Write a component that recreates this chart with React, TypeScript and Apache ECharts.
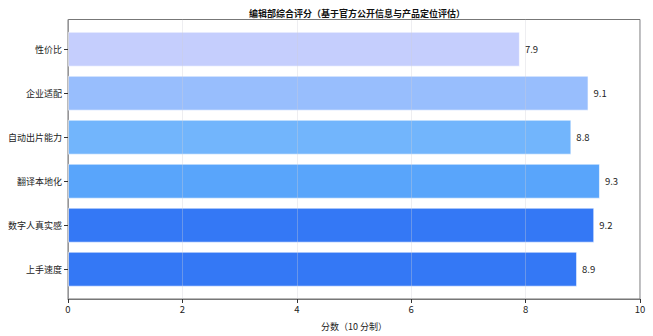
import React, { useEffect, useRef } from "react";
import * as echarts from "echarts";

const categories = ["性价比", "企业适配", "自动出片能力", "翻译本地化", "数字人真实感", "上手速度"];
const scores = [7.9, 9.1, 8.8, 9.3, 9.2, 8.9];
const barColors = ["#c5cefd", "#98befd", "#72b5fc", "#59a5fb", "#3478f5", "#3478f5"];
const xTicks = { min: 0, max: 10, interval: 2 };
const titleText = "编辑部综合评分（基于官方公开信息与产品定位评估）";
const xName = "分数（10 分制）";

const FONT = "'Noto Sans CJK SC', 'Noto Sans', sans-serif";

export default function App() {
  const ref = useRef<HTMLDivElement>(null);
  useEffect(() => {
    if (!ref.current) return;
    const chart = echarts.init(ref.current, null, { renderer: "svg" });
    chart.setOption({
      animation: false,
      backgroundColor: "#ffffff",
      textStyle: { fontFamily: FONT },
      title: {
        text: titleText,
        left: 352,
        top: 4,
        textAlign: "center",
        textStyle: { fontSize: 9, fontWeight: "bold", color: "#111", fontFamily: FONT },
      },
      grid: [
        { left: 68, right: 13, top: 19.5, bottom: 36, show: true, borderColor: "#777", borderWidth: 1, backgroundColor: "transparent" },
        { left: 68, right: 13, top: 27.2, bottom: 44.8 },
      ],
      xAxis: [
        {
          gridIndex: 0,
          type: "value",
          min: xTicks.min,
          max: xTicks.max,
          interval: xTicks.interval,
          z: 5,
          name: xName,
          nameLocation: "middle",
          nameGap: 23,
          nameTextStyle: { fontSize: 9, color: "#222", fontFamily: FONT },
          axisLine: { show: true, lineStyle: { color: "#777", width: 1 } },
          axisTick: { show: true, length: 4, inside: false, lineStyle: { color: "#333" } },
          axisLabel: { fontSize: 9.5, color: "#222", margin: 5, fontFamily: FONT },
          splitLine: { show: true, lineStyle: { color: "rgba(205,205,215,0.35)", width: 1 } },
        },
        { gridIndex: 1, type: "value", min: xTicks.min, max: xTicks.max, show: false },
      ],
      yAxis: [
        {
          gridIndex: 0,
          type: "value",
          min: 0,
          max: 1,
          axisLine: { show: true, lineStyle: { color: "#777" } },
          axisTick: { show: false },
          axisLabel: { show: false },
          splitLine: { show: false },
        },
        {
          gridIndex: 1,
          type: "category",
          inverse: true,
          data: categories,
          axisLine: { show: false },
          axisTick: { show: true, alignWithLabel: true, length: 4, lineStyle: { color: "#333" } },
          axisLabel: { fontSize: 9, color: "#222", margin: 6, fontFamily: FONT },
        },
      ],
      series: [
        {
          type: "bar",
          xAxisIndex: 1,
          yAxisIndex: 1,
          barWidth: 35,
          z: 2,
          data: scores.map((v, i) => ({
            value: v,
            itemStyle: { color: barColors[i], borderColor: "rgba(255,255,255,0.6)", borderWidth: 1 },
          })),
          label: {
            show: true,
            position: "right",
            distance: 5,
            fontSize: 9.5,
            color: "#222",
            fontFamily: FONT,
            formatter: (p: any) => Number(p.value).toFixed(1),
          },
        },
      ],
    });
    return () => chart.dispose();
  }, []);
  return <div ref={ref} style={{ position: "fixed", left: 0, top: 0, width: 653, height: 336 }} />;
}
